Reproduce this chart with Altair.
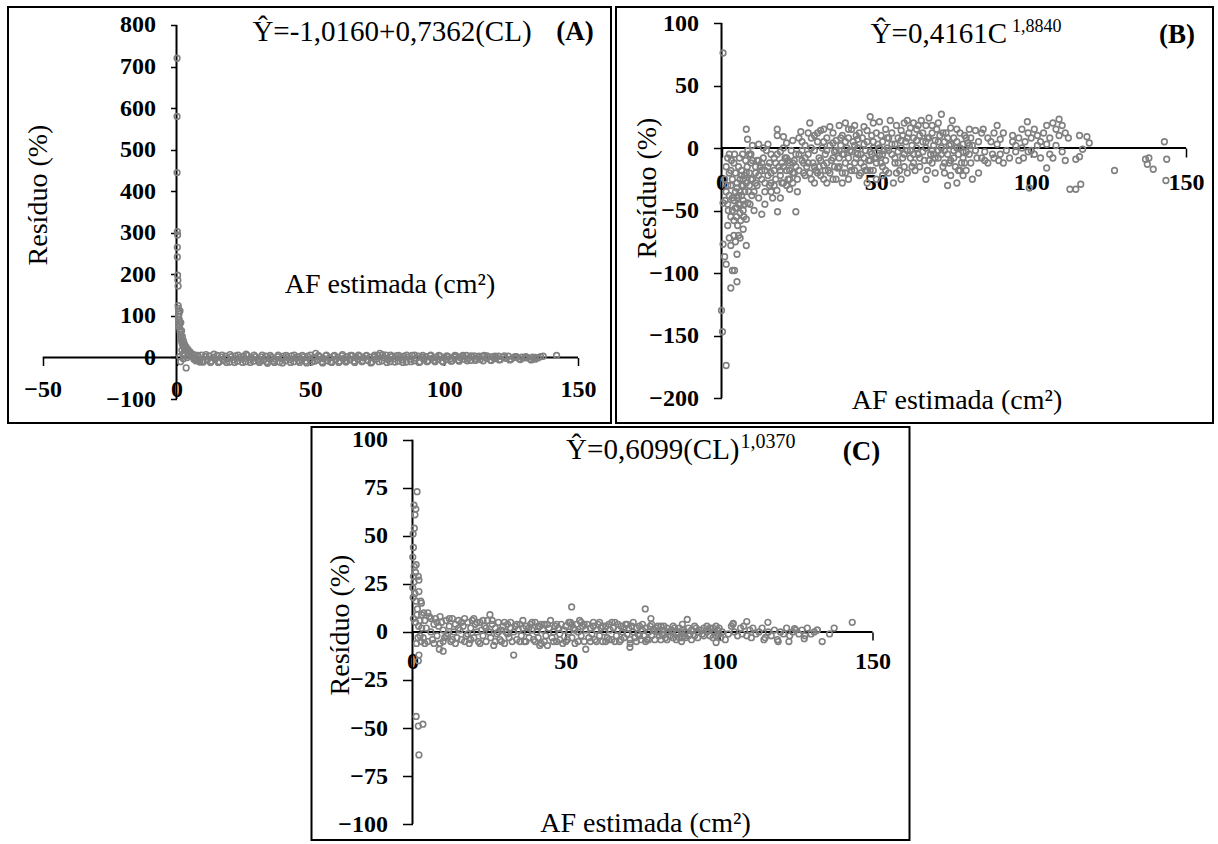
import altair as alt
import pandas as pd

FONT = "Liberation Serif"
GRAY = "#808080"

# ---------------- Panel A data (x = AF estimada, y = residuo %) ----------------
A_spike = [(0.2,720),(0.2,580),(0.2,445),(0.3,303),(0.4,295),(0.3,265),(0.3,242),(0.4,198),(0.5,186),(0.6,172),
           (0.6,125),(0.7,118),(0.8,110),(0.9,104),(0.7,98),(1.0,92),(1.1,86),(1.2,80),(1.0,74),(1.3,68),(1.4,62),
           (1.5,56),(1.6,50),(1.7,46),(1.9,42),(2.0,38),(2.1,34),(2.3,31),(2.5,28),(2.7,25),(2.9,22),(3.1,20),
           (3.4,18),(3.7,16),(4.0,14),(4.4,12),(4.8,10),(5.2,9),(1.3,112),(1.6,84),(1.9,64),(2.2,50),(2.6,40),
           (3.0,32),(3.5,26),(4.2,20),(5.0,14),(2.0,18),(2.4,8),(3.0,4),(1.5,-10),(3.6,-25),(1.2,2),(2.6,-3),
           (4.0,0),(5.5,4),(6.0,8),(7.0,6),(8.0,5),(6.5,-4),(7.5,-6),(8.5,-8),(9.5,-10)]
A_band = [(10,-11),(10.8,2),(11.5,-6),(12.3,4),(13,-9),(13.8,0),(14.5,-4),(15.2,5),(16,-10),(16.8,1),(17.5,-7),
          (18.3,3),(19,-3),(19.8,-11),(20.5,2),(21.3,-6),(22,4),(22.8,-9),(23.5,0),(24.3,-4),(25,3),(25.8,-10),
          (26.5,5),(27.3,-6),(28,-1),(28.8,-9),(29.5,2),(30.3,-5),(31,-12),(31.8,1),(32.5,-7),(33.3,3),(34,-14),
          (34.8,-3),(35.5,1),(36.3,-9),(37,-4),(37.8,2),(38.5,-11),(39.3,-2),(40,3),(40.8,-8),(41.5,0),(42.3,-5),
          (43,4),(43.8,-10),(44.5,-1),(45.3,2),(46,-12),(46.8,-6),(47.5,1),(48.3,-9),(49,3),(49.8,-4),(50.5,-11),
          (51.3,0),(52,10),(52.8,-6),(53.5,2),(54.3,-10),(55,-3),(55.8,4),(56.5,-8),(57.3,0),(58,-12),(58.8,3),
          (59.5,-5),(60.3,1),(61,-9),(61.8,4),(62.5,-2),(63.3,-11),(64,2),(64.8,-6),(65.5,5),(66.3,-9),(67,0),
          (67.8,-4),(68.5,3),(69.3,-10),(70,-1),(70.8,4),(71.5,-7),(72.3,1),(73,-11),(73.8,2),(74.5,-4),(75.3,5),
          (76,10),(76.8,-8),(77.5,0),(78.3,6),(79,-5),(79.8,-10),(80.5,2),(81.3,-3),(82,4),(82.8,-9),(83.5,0),
          (84.3,-6),(85,3),(85.8,-11),(86.5,1),(87.3,-4),(88,5),(88.8,-8),(89.5,-1),(90.3,3),(91,-10),(91.8,0),
          (92.5,-5),(93.3,2),(94,-8),(94.8,4),(95.5,-2),(96.3,-7),(97,1),(97.8,-4),(98.5,3),(99.3,-9),(100,0),
          (100.8,-5),(101.5,2),(102.3,-3),(103,-8),(103.8,1),(104.5,4),(105.3,-6),(106,0),(106.8,3),(107.5,-4),
          (108.3,5),(109,-2),(109.8,-7),(110.5,2),(111.3,4),(112,-3),(112.8,0),(113.5,-5),(114.3,3),(115,5),
          (115.8,-2),(116.5,1),(117.3,-6),(118,2),(118.8,-3),(119.5,0),(120.3,3),(121,-5),(122,1),(123,-2),
          (124,3),(125,-4),(126,0),(127,2),(128,-3),(129,1),(130,-1),(131,0),(132,-3),(133,1),(134,-4),(135,-1),
          (136,2),(137,3),(142,5)]
A_band2 = [(6.5,0),(7.2,-8),(8,3),(8.7,-11),(9.3,6),(11,7),(12.7,-12),(14,8),(15.6,-12),(17,6),(18.7,-12),(20,7),
           (21.7,-12),(23,6),(24.7,-12),(26,8),(27.6,-12),(29,6),(30.6,-9),(32,6),(33.6,-10),(35,5),(36.6,-12),
           (38,6),(39.6,-13),(41,5),(42.6,-12),(44,6),(45.6,-8),(47,5),(48.6,-13),(50,6),(51.6,-9),(53,5),
           (54.6,-13),(56,6),(57.6,-10),(59,5),(60.6,-12),(62,7),(63.6,-8),(65,5),(66.6,-12),(68,6),(69.6,-8),
           (71,5),(72.6,-13),(74,6),(75.6,-10),(77,7),(78.6,-12),(80,6),(81.6,-11),(83,5),(84.6,-12),(86,6),
           (87.6,-10),(89,6),(90.6,-12),(92,5),(93.6,-10),(95,6),(96.6,-10),(98,5),(99.6,-11),(101,4),(102.6,-9),
           (104,5),(105.6,-9),(107,5),(108.6,-8),(110,4),(111.6,-7),(113,3),(114.6,-8),(116,4),(117.6,-7),(119,3),
           (120.6,-6),(122.5,4),(124.5,-6),(126.5,2),(128.5,-5),(130.5,2),(132.5,-6),(134,0)]

# ---------------- Panel B data ----------------
B_low = [(0.5,76),(0,-130),(0.3,-147),(1.5,-174),(1,-87),(1.5,-93),(0.5,-77),(3,-112),(3.5,-98),(4.2,-98),
         (5,-107),(2,-62),(2.5,-72),(3,-78),(4,-70),(5.5,-70),(8,-78),(8,-57),(8.5,-44),(0.5,-44),(1.2,-42),
         (2,-45),(2.5,-38),(3,-30),(3.5,-50),(4,-42),(4.5,-35),(5,-28),(5.5,-45),(6,-52),(6.5,-38),(7,-30),
         (7.5,-22),(1,-25),(1.5,-15),(2,-8),(2.5,-5),(3,-18),(3.5,-25),(4,-12),(4.5,-20),(5,-32),(5.5,-15),
         (6,-25),(6.5,-18),(7,-42),(7.5,-35),(8,-28),(9,-20),(9.5,-12),(3,-55),(4,-58),(5,-48),(6,-45),(7,-50),
         (3.5,-40),(4.5,-48),(5.5,-38),(6.5,-30),(2,-30),(2.5,-20),(1.5,-35),(2.2,-50),(4.8,-55),(5.2,-62),
         (6.2,-58),(7.2,-55),(8.8,-35),(9.2,-45),(8.3,-15),(7.8,-10),(6.8,-5),(8.5,-2),(9.5,-25),(3.2,-10),
         (4.2,-5),(5.8,-8),(9.8,-38),(7,-65),(4.5,-75),(5,-85),(6,-72)]
B_early = [(8,15),(8.4,7),(9,-5),(10,-10),(10.5,-50),(11,-20),(11.5,-30),(12,3),(12,-40),(12.5,-15),(13,-53),
           (13,-25),(13.5,-8),(14,-18),(14,-35),(14.5,-2),(15,3),(15,-22),(15.5,-12),(16,-28),(16,-5),(16.5,-40),
           (17,-18),(17,-8),(17.5,-25),(18,15),(18,10),(17.9,-34),(18.1,-51),(18.5,-15),(19,-3),(19,-22),
           (19.5,-12),(20,-28),(20,0),(20.5,-8),(21,-18),(21,4),(21.5,-25),(22,-33),(22,-12),(22.5,-2),(23,-20),
           (23,6),(23.5,-10),(24,-51),(24,-15),(24.5,-25),(25,-5),(25.6,13),(25,8),(11,-28),(12,-10),(14,-45),
           (16,-35),(19,-40),(21,-30),(23,-28),(24.5,-35),(10,2),(13.5,0),(20,9),(22,-18)]
B_mid = [(26,-10),(26.5,-20),(27,2),(27.5,-15),(28,-5),(28.5,20),(29,-25),(29,8),(29.5,-12),(30,-2),(30.5,-18),
         (31,5),(31,12),(31.5,-8),(32,-22),(32.5,0),(33,-14),(33,15),(33.5,-5),(34,-28),(34,8),(34.5,-18),(35,2),
         (35.5,-10),(36,-25),(36,12),(36.5,-3),(37,6),(37.5,-16),(38,18),(38,-8),(38.5,2),(39,-20),(39,10),
         (39.5,-5),(40,20),(40,-12),(40.5,0),(41,-25),(41,8),(41.5,-15),(42,15),(42,-3),(42.5,5),(43,-18),(43,18),
         (43.5,-8),(44,0),(44.5,-22),(44.5,12),(45,-5),(45.5,8),(46,-15),(46,17),(46.5,-2),(47,-28),(47,5),
         (47.5,-10),(48,25),(48,-3),(48.5,10),(49,-18),(49,0),(49.5,-8),(50,12),(50,-25),(26,5),(27,-8),(28,12),
         (30,-28),(32,14),(34,-2),(35,17),(37,-25),(39,-28),(41,15),(43,2),(45,-12),(47,14),(49,20),(50,-12),
         (36,4),(40,-20),(44,7),(46,-8),(48,-18),(30,10),(33,-25),(38,-2)]
B_high = [(50.5,3),(51,-6),(51,21),(51.5,10),(52,-15),(52,5),(52.5,-2),(53,15),(53,-10),(53.5,0),(54,-20),(54,8),
          (54.5,22),(55,-5),(55,12),(55.5,-28),(56,3),(56,-12),(56.5,18),(57,-3),(57,8),(57.5,-18),(58,14),(58,0),
          (58.5,-8),(59,20),(59,-15),(59.5,5),(60,-2),(60,-20),(60.5,12),(61,-8),(61,16),(61.5,2),(62,-12),(62,8),
          (62.5,-18),(63,0),(63,15),(63.5,-5),(64,10),(64,-15),(64.5,22),(65,-3),(65,5),(65.5,-10),(66,18),(66,0),
          (66.5,-18),(67,8),(67,24),(67.5,-5),(68,12),(68,-12),(68.5,2),(69,-20),(69,6),(69.5,15),(70,-2),(70,-8),
          (70.5,10),(71,27),(71,0),(71.5,-15),(72,5),(72,-20),(72.5,12),(73,-5),(73,-30),(73.5,2),(74,16),
          (74,-10),(74.5,22),(75,-2),(75,8),(75.5,-15),(76,5),(76,-28),(76.5,-5),(77,12),(77,0),(77.5,-12),(78,3),
          (78,-8),(78.5,10),(79,-3),(79,-18),(79.5,4),(80,15),(80,-5),(80.5,-12),(81,-25),(81,2),(82,-2),(82,14),
          (83,-20),(83,5),(84,12),(84,-8),(52,-22),(60,22),(66,-25),(70,20),(74,-22),(58,-25),(62,20),(68,18),
          (72,-12),(76,15),(78,-22)]
B_dense = [(5,-40),(6,-35),(7,-25),(8,-20),(9,-30),(10,-25),(11,-15),(12,-22),(13,-12),(14,-28),(15,-15),(16,-20),
           (17,-30),(18,-5),(19,-18),(20,-15),(21,-8),(22,-25),(23,-12),(24,-5),(25,-18),(26,-2),(27,-22),(28,-12),
           (29,0),(30,-15),(31,-20),(32,-10),(33,5),(34,-12),(35,-20),(36,-8),(37,-2),(38,-15),(39,-5),(40,5),
           (41,-8),(42,-18),(43,-12),(44,-5),(45,-20),(46,3),(47,-18),(48,-10),(49,5),(50,-8),(51,0),(52,-5),
           (53,-18),(54,-2),(55,3),(56,-8),(57,-12),(58,6),(59,-5),(60,8),(61,-2),(62,-5),(63,6),(64,-8),(65,12),
           (66,5),(67,-10),(68,-2),(69,-8),(70,5),(71,-5),(72,-2),(73,8),(74,3),(75,-8),(76,0),(77,-18),(78,-3),
           (79,8),(80,2),(6.5,-22),(7.5,-45),(9.5,-5),(10.5,-35),(11.5,-10),(13,-18),(15.5,-30),(17.5,-12),
           (19.5,-28),(21.5,-10),(23.5,-20),(26.5,-12),(28.5,-20),(31.5,-15),(33.5,-18),(36.5,-15),(38.5,8),
           (41.5,-2),(43.5,10),(46.5,-18),(48.5,-5),(51.5,-12),(53.5,8),(56.5,-20),(58.5,10),(61.5,-15),(63.5,18),
           (66.5,8),(68.5,-5),(71.5,12),(73.5,-12),(76.5,-18),(78.5,-12),(80.5,8),(82.5,-8)]
B_tail = [(84.5,15),(85,-3),(85,-10),(86,8),(86,-12),(87,5),(87.5,-5),(88,12),(88,-8),(89,18),(89,3),(89.5,-10),
          (90,7),(90,-5),(91,12),(91,-12),(92,-2),(93,-8),(94,5),(94,10),(95,-3),(95,2),(96,8),(96,-10),(97,15),
          (97,0),(97.5,-8),(98.75,21),(98,5),(99,12),(99,-3),(99.4,-32),(100,8),(100,-2),(101,-5),(101,15),(102,2),
          (102,10),(103,5),(103,-8),(104,12),(105,-16),(105,3),(105,18),(106,-5),(106,8),(107,20),(107,-8),(108,2),
          (108,15),(109,23),(109,10),(110,-3),(110,18),(111,-10),(111,12),(112,8),(112.5,-33),(114.4,-33),
          (116,-29),(115.6,10),(118,9),(118.75,4),(116.6,-1),(115.6,-7),(114.4,-9)]
B_far = [(126.9,-18),(136.9,-9),(138,-8),(137.5,-13),(139.4,-17),(143,5),(143.75,-9),(143.5,-26)]

# ---------------- Panel C data ----------------
C_spike = [(1.5,73),(0.5,66),(1.1,64),(0.8,61),(0.6,54),(0.2,51),(0.3,44),(0.1,39),(1.2,35),(0.6,34),(0.3,29),
           (1.9,29),(2.1,27),(0.1,23),(2.1,21),(0.2,18),(1.2,16),(2.7,16),(2.9,15),(1.6,12),(3.7,10),(0.3,7),
           (1.0,5),(2.0,3),(2.5,-2),(1.3,-6),(2.1,-12),(1.9,-15),(1.2,-44),(1.9,-49),(3.4,-48),(2.1,-64),
           (0.5,26),(1.0,31),(0.8,20),(1.5,9),(2.4,6),(3.0,2),(1.8,-3),(2.8,-5)]
C_band = [(3,9),(3.5,-3),(4,6),(4.5,2),(5,-5),(5.5,8),(6,0),(6.5,-4),(7,4),(7.5,7),(8,-2),(8.5,3),(9,-6),(9.5,5),
          (10,1),(10.5,-3),(11,6),(11.5,-1),(12,3),(12.5,-5),(13,7),(13.5,0),(14,4),(14.5,-3),(15,6),(15.5,1),
          (16,-4),(16.5,3),(17,7),(17.5,-2),(18,5),(18.5,-6),(19,2),(19.5,6),(20,-3),(20.5,4),(21,0),(21.5,-5),
          (22,5),(22.5,1),(23,-2),(23.5,3),(24,-5),(24.5,6),(25,0),(25.5,-3),(26,4),(26.5,-7),(27,2),(27.5,-1),
          (28,5),(28.5,-4),(29,1),(29.5,3),(30,-6),(30.5,0),(31,4),(31.5,-3),(32,2),(32.5,-5),(33,0),(33.5,3),
          (34,-4),(34.5,1),(35,4),(35.5,-2),(36,2),(36.5,-5),(37,3),(37.5,0),(38,-3),(38.5,4),(39,1),(39.5,-4),
          (40,5),(40.5,0),(41,-3),(41.5,3),(42,-6),(42.5,1),(43,4),(43.5,-2),(44,-7),(44.5,2),(45,6),(45.5,-3),
          (46,0),(46.5,3),(47,-5),(47.5,2),(48,-1),(48.5,4),(49,-6),(49.5,1),(50,3),(50.5,-4),(51,0),(51.5,5),
          (52,-3),(52.5,2),(53,-6),(53.5,4),(54,0),(54.5,6),(55,-2),(55.5,3),(56,-5),(56.5,1),(57,4),(57.5,-3),
          (58,2),(58.5,-1),(59,3),(59.5,-4),(60,1),(60.5,4),(61,-2),(61.5,2),(62,-5),(62.5,0),(63,3),(63.5,-3),
          (64,4),(64.5,1),(65,-4),(65.5,2),(66,5),(66.5,-2),(67,1),(67.5,-5),(68,3),(68.5,0),(69,-3),(69.5,4),
          (70,-1),(70.5,2),(71,-4),(71.5,3),(72,0),(72.5,-3),(73,2),(73.5,-1),(74,3),(74.5,-4),(75,1),(75.5,-2),
          (76,2),(76.5,-4),(77,0),(77.5,3),(78,-2),(78.5,1),(79,-4),(79.5,2),(80,0),(80.5,-2),(81,3),(81.5,-1),
          (82,1),(82.5,-3),(83,2),(83.5,0),(84,-2),(84.5,1),(85,-3),(85.5,2),(86,-1),(86.5,0),(87,-3),(88,1),
          (88.5,-2),(89,0),(90,2),(90.5,-1),(91,1),(92,-2),(92.5,2),(93,0),(94,1),(94.5,-1),(95,2),(96,0),
          (96.5,1),(97,-2),(98,2),(98.5,0),(99,-2),(99.5,1),(100,2),(100.5,-3),(101,0),(102,-4),(103,-1),(104,3),
          (104.5,4),(105,0),(106,-2),(107,2),(107.5,-1),(108,3),(109,-2),(110,1),(110.5,-3),(111,2),(112,-1),
          (113,0),(114,2),(115,-3),(116,0),(117,-2),(118,1),(119,-4),(120,0),(121,-1),(122,2),(123,-2),(124,0),
          (125,1),(126,-1),(127,1),(128,-2),(130,-1),(131,0),(132,1)]
C_band2 = [(4,-6),(5,10),(6,7),(7,-6),(8,5),(9,8),(10,-5),(11,-2),(12,7),(13,-4),(14,-6),(15,2),(16,5),(17,-5),
           (18,-1),(19,-4),(20,7),(21,5),(22,-6),(23,6),(24,2),(26,6),(27,-5),(28,0),(29,-5),(30,5),(31,-1),(32,5),
           (34,4),(35,-5),(36,6),(37,-5),(38,2),(39,5),(40,-5),(41,3),(42,4),(43,-5),(44,4),(46,-5),(47,4),(48,-4),
           (50,-5),(51,5),(52,4),(53,1),(54,-5),(55,5),(56,4),(58,-5),(59,5),(60,-5),(61,5),(62,3),(63,-5),(64,-4),
           (65,5),(66,-5),(67,4),(68,-4),(69,2),(70,4),(71,-6),(72,5),(73,-5),(74,-2),(75,4),(76,-5),(77,-4),(78,4),
           (79,1),(80,3),(81,-4),(82,3),(83,-4),(85,3),(86,-4),(87,2),(88,-3),(89,-3),(90,-2),(91,-4),(92,3),
           (93,-3),(95,-2),(96,3),(97,2),(98,-3),(99,3),(100,-1)]
C_out = [(51.9,13),(75.9,12),(77.75,7),(70.9,-8),(33,-12),(8.75,-9),(10,-10),(25.25,9),(143.4,5),(137.5,2),
         (115.9,5),(133.6,-5),(136,-1),(56.5,-9),(41.5,-7),(99,-5.5),(87.75,-5),(89.6,6.5),(88,4),(127.75,-3.5),
         (122.75,-5),(119.25,-5),(114.6,-4),(109,5.4),(104.6,4.5),(132,1),(128.75,2),(124.6,1.7)]

# tick values
A_xticks = [-50, 0, 50, 100, 150]
A_yticks = [800, 700, 600, 500, 400, 300, 200, 100, 0, -100]
B_xticks = [0, 50, 100, 150]
B_yticks = [100, 50, 0, -50, -100, -150, -200]
C_xticks = [0, 50, 100, 150]
C_yticks = [100, 75, 50, 25, 0, -25, -50, -75, -100]

TITLE_X = "AF estimada (cm²)"
TITLE_Y = "Resíduo (%)"


def make_panel(points, xdom, ydom, W, H, xticks, yticks, xline, yline,
               texts, ytick, ypad, xtick, xpad):
    df = pd.DataFrame(points, columns=["x", "y"])
    x0 = W * (0 - xdom[0]) / (xdom[1] - xdom[0])
    y0 = H * (ydom[1] - 0) / (ydom[1] - ydom[0])
    xs = alt.Scale(domain=xdom, nice=False, zero=False)
    ys = alt.Scale(domain=ydom, nice=False, zero=False)
    lab = dict(labelFont=FONT, labelFontSize=24, labelFontWeight="bold", labelColor="black",
               labelOverlap=False, labelFlush=False, labelBound=False, domain=False, grid=False,
               tickColor="black", tickWidth=1.5, title=None, labelBaseline="middle")
    xaxis = alt.Axis(values=xticks, offset=-(H - y0), tickSize=xtick, labelPadding=xpad, **lab)
    yaxis = alt.Axis(values=yticks, offset=-x0, tickSize=ytick, labelPadding=ypad,
                     labelAlign="right", **lab)
    X = lambda f: alt.X(f, scale=xs, axis=xaxis)
    Y = lambda f: alt.Y(f, scale=ys, axis=yaxis)

    hline = alt.Chart(pd.DataFrame({"x": [xline[0]], "x2": [xline[1]], "y": [0]})).mark_rule(
        color="black", strokeWidth=2).encode(x=X("x:Q"), x2="x2:Q", y=Y("y:Q"))
    vline = alt.Chart(pd.DataFrame({"x": [0], "y": [yline[0]], "y2": [yline[1]]})).mark_rule(
        color="black", strokeWidth=2).encode(x=X("x:Q"), y=Y("y:Q"), y2="y2:Q")
    pts = alt.Chart(df).mark_point(shape="circle", filled=False, size=32, strokeWidth=1.6,
                                   color=GRAY, opacity=1).encode(x=X("x:Q"), y=Y("y:Q"))
    layers = [hline, vline, pts]
    for t in texts:
        kw = dict(text=t["text"], font=FONT, fontSize=t["size"], fontWeight=t.get("weight", "normal"),
                  color="black", align=t.get("align", "center"), baseline="middle")
        if "angle" in t:
            kw["angle"] = t["angle"]
        layers.append(alt.Chart(pd.DataFrame({"a": [0]})).mark_text(**kw).encode(
            x=alt.value(t["x"]), y=alt.value(t["y"])))
    return alt.layer(*layers).properties(width=W, height=H)


A = make_panel(A_spike + A_band + A_band2, [-62.96, 162.33], [-157.6, 843.3], 603, 416,
               A_xticks, A_yticks, (-50, 150), (-100, 800),
               [dict(text="Ŷ=-1,0160+0,7362(CL)", x=384, y=25, size=29),
                dict(text="(A)", x=567, y=25, size=27, weight="bold"),
                dict(text=TITLE_X, x=382, y=278, size=28),
                dict(text=TITLE_Y, x=31, y=188, size=28, angle=270)],
               6, 15, 8, 24)

B = make_panel(B_low + B_early + B_mid + B_high + B_dense + B_tail + B_far, [-34.07, 158.7], [-220, 112.8],
               597, 416, B_xticks, B_yticks, (0, 150), (-200, 100),
               [dict(text="Ŷ=0,4161C", x=391, y=27, size=29, align="right"),
                dict(text="1,8840", x=396, y=20, size=18, align="left"),
                dict(text="(B)", x=561, y=28, size=27, weight="bold"),
                dict(text=TITLE_X, x=341, y=394, size=28),
                dict(text=TITLE_Y, x=32, y=181, size=28, angle=270)],
               8, 15, 9, 25)

C = make_panel(C_spike + C_band + C_band2 + C_out, [-32.93, 162.07], [-108.3, 106.7], 598, 413,
               C_xticks, C_yticks, (0, 150), (-100, 100),
               [dict(text="Ŷ=0,6099(CL)", x=428, y=23, size=29, align="right"),
                dict(text="1,0370", x=429, y=15, size=20, align="left"),
                dict(text="(C)", x=550, y=25, size=27, weight="bold"),
                dict(text=TITLE_X, x=334, y=397, size=28),
                dict(text=TITLE_Y, x=29, y=198, size=28, angle=270)],
               10, 15, 8, 22)

chart = alt.vconcat(alt.hconcat(A, B, spacing=3), C, spacing=2, center=True).properties(
    padding={"left": 7, "top": 6, "right": 0, "bottom": 0},
    background="white",
).configure_view(stroke="black", strokeWidth=2)

chart.save("out.html", embed_options={"renderer": "svg", "actions": False})
